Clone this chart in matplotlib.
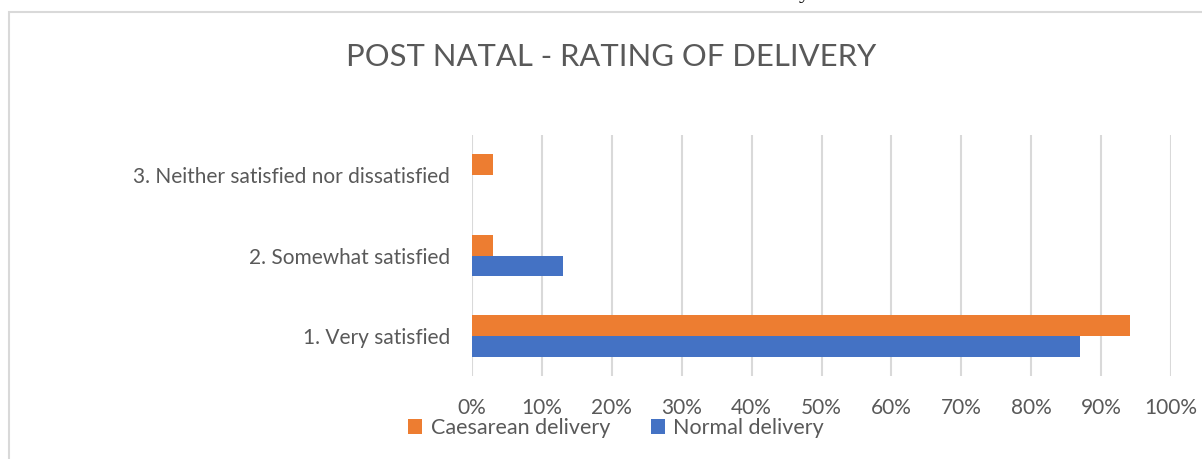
import matplotlib
matplotlib.use("Agg")
import matplotlib.pyplot as plt
from matplotlib.patches import Rectangle
import numpy as np

categories = ["1. Very satisfied", "2. Somewhat satisfied",
              "3. Neither satisfied nor dissatisfied"]
normal = [0.8696, 0.1304, 0.0]
caesarean = [0.9412, 0.0294, 0.0294]
xticks = [0, 0.1, 0.2, 0.3, 0.4, 0.5, 0.6, 0.7, 0.8, 0.9, 1.0]

gray = "#595959"
orange = "#ed7d31"
blue = "#4472c4"

plt.rcParams['font.family'] = ['Lato', 'DejaVu Sans']

fig = plt.figure(figsize=(12.02, 4.59), dpi=100)
ax = fig.add_axes([0.3927, 0.1808, 0.5815, 0.5251])

y = np.arange(len(categories))
h = 0.26
ax.barh(y + h / 2, caesarean, height=h, color=orange, label="Caesarean delivery", zorder=3)
ax.barh(y - h / 2, normal, height=h, color=blue, label="Normal delivery", zorder=3)

ax.set_xlim(0, 1.0)
ax.set_ylim(-0.5, 2.5)
ax.set_xticks(xticks)
ax.set_xticklabels([f"{int(round(t * 100))}%" for t in xticks])
ax.set_yticks(y)
ax.set_yticklabels(categories)
ax.tick_params(axis='x', length=0, pad=16, labelsize=15, labelcolor=gray)
ax.tick_params(axis='y', length=0, pad=16, labelsize=15, labelcolor=gray)
ax.grid(axis='x', color="#d9d9d9", linewidth=1.5, zorder=0)
for s in ax.spines.values():
    s.set_visible(False)

fig.text(0.5087, 0.876, "POST NATAL - RATING OF DELIVERY", ha='center', va='center',
         fontsize=22.3, color=gray)

fig.legend(loc='center', bbox_to_anchor=(0.5125, 0.0675), ncol=2, frameon=False,
           fontsize=15.5, labelcolor=gray, handlelength=0.65, handleheight=0.65,
           handletextpad=0.4, columnspacing=1.9, borderaxespad=0)

# chart frame
fig.patches.append(Rectangle((9 / 1202, -0.05), 1.2, 1 - 12 / 459 + 0.05,
                             transform=fig.transFigure, fill=False,
                             edgecolor="#d9d9d9", linewidth=1.5))
# fragment of page text above the chart
fig.text(0.669, 1.004, "y", ha='center', va='baseline', fontsize=16,
         family='Liberation Serif', color='black')

fig.savefig("out.png", dpi=100)
